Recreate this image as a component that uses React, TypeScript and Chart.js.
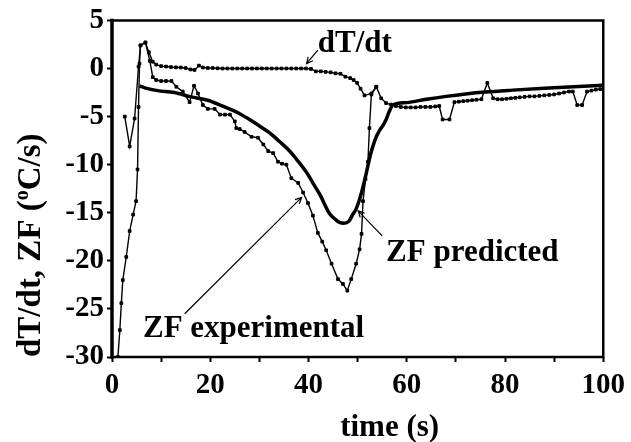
import React, { useEffect, useRef } from "react";
import { Chart, registerables } from "chart.js";

Chart.register(...registerables);

const FONT = "'Liberation Serif', 'Times New Roman', 'DejaVu Serif', serif";

// ---- ZF predicted (thick smooth line) ----
const predT = [
  5.6, 7.3, 9.3, 12.7, 16.1, 19.5, 22, 26, 28, 30.1,
  32.1, 34.1, 36.2, 37.5, 39.6, 41, 42.3, 44.3, 45.5, 46.3,
  47.2, 48.2, 49, 49.7, 50.4, 51.1, 51.8, 52.5, 53.1, 53.8,
  54.5, 55.2, 55.8, 56.5, 57.2, 60, 64, 68, 72, 76,
  81.6, 88, 94, 100,
];
const predZF = [
  -1.8, -2.1, -2.3, -2.5, -2.95, -3.3, -3.8, -4.7, -5.3, -6.0,
  -6.7, -7.6, -8.6, -9.4, -10.8, -12.0, -13.1, -15.1, -15.7, -16.0,
  -16.1, -15.9, -15.2, -14.6, -13.6, -12.3, -10.8, -9.2, -8.1, -7.1,
  -6.4, -5.9, -5.3, -4.4, -3.8, -3.55, -3.2, -2.9, -2.65, -2.45,
  -2.25, -2.05, -1.9, -1.75,
];

// ---- ZF experimental (thin line with square markers) ----
const expT = [
  1.2, 1.6, 1.9, 2.2, 2.9, 3.6, 4.3, 4.9, 5.2, 5.4,
  5.6, 5.8, 6.8, 7.7, 8.3, 9.0, 10, 11, 12.1, 13.1,
  14.4, 15.8, 16.7, 17.5, 18.5, 19.5, 20.9, 22, 23, 24,
  25, 25.3, 26, 27, 28.4, 29.7, 30.8, 31.8, 32.8, 33.8,
  34.6, 35.5, 36.5, 37.9, 38.9, 39.9, 40.9, 41.9, 42.8, 43.6,
  44.7, 46.0, 47.0, 47.9, 48.7, 49.7, 50.4, 50.8, 51.1, 51.6,
  52.1, 52.4, 52.8, 53.8,
];
const expZF = [
  -30, -27.2, -24.4, -22.0, -19.6, -16.9, -15.2, -13.8, -10.5, -4,
  0.5, 2.4, 2.7, 0.8, -0.9, -1.2, -1.3, -1.3, -1.3, -1.9,
  -2.4, -3.5, -1.8, -2.6, -3.8, -4.2, -4.2, -4.8, -4.8, -4.8,
  -5.5, -6.2, -6.3, -6.6, -7.1, -7.2, -7.9, -8.6, -8.8, -9.7,
  -9.9, -10.0, -11.4, -11.9, -12.9, -14.0, -15.3, -17.1, -18.0, -18.9,
  -20.3, -21.9, -22.4, -23.1, -21.9, -20.3, -18.8, -17.2, -13.8, -11.5,
  -9.7, -6.2, -2.7, -1.9,
];

// ---- dT/dt (thin line with square markers) ----
const dtT = [
  2.6, 3.6, 4.6, 5.4, 5.8, 6.8, 7.5, 8.3, 9.0, 10,
  11, 12, 13, 14, 15, 16, 16.8, 17.7, 18.5, 19.5,
  20.5, 21.5, 22.5, 23.5, 24.5, 25.5, 26.5, 27.5, 28.5, 29.5,
  30.5, 31.5, 32.5, 33.5, 34.5, 35.5, 36.5, 37.5, 38.5, 39.5,
  40.5, 41.5, 42.5, 43.5, 44.5, 45.5, 46.5, 47.5, 48.5, 49.2,
  49.9, 50.6, 51.4, 52.8, 53.8, 54.8, 55.8, 56.8, 57.8, 58.8,
  59.8, 60.8, 61.8, 62.8, 63.8, 64.8, 65.8, 66.6, 67.3, 68.7,
  69.7, 70.6, 71.5, 72.4, 73.3, 74.2, 75.2, 76.4, 77.6, 78.5,
  79.4, 80.3, 81.2, 82.1, 83, 84, 85, 86, 87, 88,
  89, 90, 91, 92, 93, 93.8, 94.7, 95.7, 96.7, 97.6,
  98.5, 99.4,
];
const dtV = [
  -5.0, -8.1, -5.2, 0.2, 2.4, 2.7, 1.7, 0.7, 0.4, 0.25,
  0.2, 0.15, 0.12, 0.1, 0.05, -0.1, -0.15, 0.3, 0.1, 0.05,
  0.05, 0.02, 0, 0, 0, 0, 0, 0, 0, 0,
  0, 0, 0, 0, 0, 0, 0, 0, 0, 0,
  -0.05, -0.3, -0.3, -0.35, -0.4, -0.5, -0.55, -0.85, -1.0, -1.2,
  -1.5, -2.1, -2.8, -2.6, -1.9, -3.1, -3.6, -3.75, -3.9, -4.0,
  -4.05, -4.05, -4.05, -4.0, -4.0, -4.0, -3.95, -3.9, -5.3, -5.3,
  -3.5, -3.45, -3.4, -3.35, -3.3, -3.25, -3.2, -1.5, -3.1, -3.2,
  -3.2, -3.15, -3.1, -3.05, -3.0, -2.95, -2.9, -2.9, -2.85, -2.8,
  -2.75, -2.7, -2.6, -2.5, -2.4, -2.4, -3.8, -3.8, -2.4, -2.3,
  -2.2, -2.15,
];

// ---- axes ----
const xMin = 0, xMax = 100, xStep = 10, xLabelStep = 20;
const yMin = -30, yMax = 5, yStep = 5;
const xTitle = "time (s)";
const yTitleMain = "dT/dt, ZF (";
const yTitleSup = "o";
const yTitleEnd = "C/s)";

// ---- annotations (data units) ----
const noteTexts = ["dT/dt", "ZF predicted", "ZF experimental"];
const noteT = [41.9, 55.8, 6.3];
const noteV = [1.7, -20.0, -27.9];
const arrowFromT = [41.9, 55.0, 14.8];
const arrowFromV = [1.9, -17.4, -25.5];
const arrowToT = [39.6, 50.1, 38.6];
const arrowToV = [0.5, -14.8, -13.4];

const pairs = (xs: number[], ys: number[]) => xs.map((x, i) => ({ x, y: ys[i] }));

const decorPlugin = {
  id: "decor",
  afterDatasetsDraw(chart: any) {
    const { ctx, chartArea: a, scales } = chart;
    const xs = scales.x, ys = scales.y;
    ctx.save();
    ctx.strokeStyle = "#000";
    ctx.fillStyle = "#000";
    // arrows
    ctx.lineWidth = 1.2;
    for (let i = 0; i < arrowFromT.length; i++) {
      const x0 = xs.getPixelForValue(arrowFromT[i]);
      const y0 = ys.getPixelForValue(arrowFromV[i]);
      const x1 = xs.getPixelForValue(arrowToT[i]);
      const y1 = ys.getPixelForValue(arrowToV[i]);
      ctx.beginPath();
      ctx.moveTo(x0, y0);
      ctx.lineTo(x1, y1);
      const ang = Math.atan2(y1 - y0, x1 - x0);
      const L = 7;
      ctx.moveTo(x1 - L * Math.cos(ang - 0.45), y1 - L * Math.sin(ang - 0.45));
      ctx.lineTo(x1, y1);
      ctx.lineTo(x1 - L * Math.cos(ang + 0.45), y1 - L * Math.sin(ang + 0.45));
      ctx.stroke();
    }
    // labels
    ctx.font = `bold 31px ${FONT}`;
    ctx.textAlign = "left";
    ctx.textBaseline = "alphabetic";
    for (let i = 0; i < noteTexts.length; i++) {
      ctx.fillText(noteTexts[i], xs.getPixelForValue(noteT[i]), ys.getPixelForValue(noteV[i]));
    }
    // frame
    ctx.lineCap = "square";
    ctx.lineWidth = 2.5;
    ctx.beginPath();
    ctx.moveTo(a.left, a.top);
    ctx.lineTo(a.right, a.top);
    ctx.lineTo(a.right, a.bottom);
    ctx.lineTo(a.left, a.bottom);
    ctx.stroke();
    ctx.lineWidth = 3.5;
    ctx.beginPath();
    ctx.moveTo(a.left, a.top);
    ctx.lineTo(a.left, a.bottom);
    ctx.stroke();
    ctx.restore();
  },
  afterDraw(chart: any) {
    const { ctx, chartArea: a } = chart;
    ctx.save();
    ctx.fillStyle = "#000";
    // x title
    ctx.font = `bold 31px ${FONT}`;
    ctx.textAlign = "center";
    ctx.textBaseline = "alphabetic";
    ctx.fillText(xTitle, (a.left + a.right) / 2 + 32, 436);
    // y title (rotated, with superscript)
    const s = 33;
    ctx.translate(40, a.bottom);
    ctx.rotate(-Math.PI / 2);
    ctx.textAlign = "left";
    ctx.font = `bold ${s}px ${FONT}`;
    let pos = 0;
    ctx.fillText(yTitleMain, pos, 0);
    pos += ctx.measureText(yTitleMain).width;
    ctx.font = `bold ${Math.round(s * 0.62)}px ${FONT}`;
    ctx.fillText(yTitleSup, pos, -s * 0.36);
    pos += ctx.measureText(yTitleSup).width;
    ctx.font = `bold ${s}px ${FONT}`;
    ctx.fillText(yTitleEnd, pos, 0);
    ctx.restore();
  },
};

export default function App() {
  const ref = useRef<HTMLCanvasElement>(null);
  useEffect(() => {
    const tickFont = { family: FONT, size: 29, weight: "bold" as const };
    const gridOpts = {
      display: true,
      drawOnChartArea: false,
      drawTicks: true,
      tickLength: 5,
      tickWidth: 2,
      tickColor: "#000",
      color: "#000",
    };
    const markerOpts = {
      borderColor: "#000",
      borderWidth: 1.4,
      pointStyle: "rect",
      pointRadius: 1.9,
      pointBackgroundColor: "#000",
      pointBorderColor: "#000",
      pointBorderWidth: 1,
      tension: 0,
      fill: false,
    };
    const chart = new Chart(ref.current as HTMLCanvasElement, {
      type: "line",
      data: {
        datasets: [
          {
            label: "ZF predicted",
            data: pairs(predT, predZF),
            borderColor: "#000",
            borderWidth: 3.5,
            pointRadius: 0,
            cubicInterpolationMode: "monotone",
            fill: false,
          },
          { label: "ZF experimental", data: pairs(expT, expZF), ...markerOpts },
          { label: "dT/dt", data: pairs(dtT, dtV), ...markerOpts },
        ],
      },
      options: {
        responsive: false,
        animation: false,
        devicePixelRatio: 1,
        events: [],
        layout: { padding: { left: 0, top: 18, right: 27, bottom: 0 } },
        plugins: { legend: { display: false }, tooltip: { enabled: false }, title: { display: false } },
        scales: {
          x: {
            type: "linear",
            min: xMin,
            max: xMax,
            border: { display: false },
            grid: gridOpts,
            ticks: {
              stepSize: xStep,
              autoSkip: false,
              maxRotation: 0,
              padding: 6,
              color: "#000",
              font: tickFont,
              callback: (v: any) => (Number(v) % xLabelStep === 0 ? String(v) : ""),
            },
            afterFit: (s: any) => {
              s.height = 85;
            },
          },
          y: {
            type: "linear",
            min: yMin,
            max: yMax,
            border: { display: false },
            grid: gridOpts,
            ticks: {
              stepSize: yStep,
              autoSkip: false,
              padding: 3,
              color: "#000",
              font: tickFont,
            },
            afterFit: (s: any) => {
              s.width = 112;
            },
          },
        },
      },
      plugins: [decorPlugin],
    } as any);
    return () => chart.destroy();
  }, []);
  return (
    <div style={{ position: "fixed", left: 0, top: 0, width: 631, height: 442, background: "#fff" }}>
      <canvas ref={ref} width={631} height={442} style={{ display: "block", width: 631, height: 442 }} />
    </div>
  );
}
